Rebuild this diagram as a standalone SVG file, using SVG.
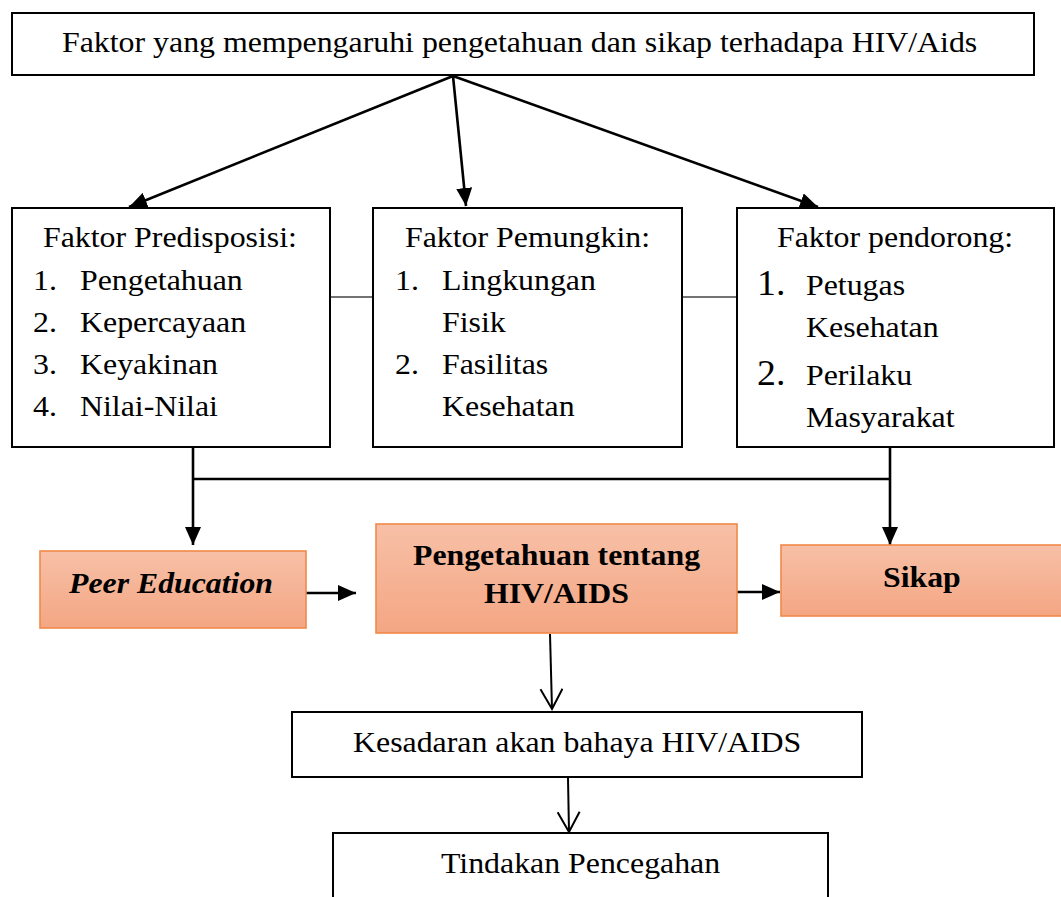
<svg xmlns="http://www.w3.org/2000/svg" width="1061" height="897" viewBox="0 0 1061 897">
<style>
.box{fill:#fff;stroke:#000;stroke-width:2}
.obox{fill:url(#og);stroke:#F0894A;stroke-width:1.6}
text{font-family:'Liberation Serif','Times New Roman',serif;font-size:29.5px;fill:#000}
.b{font-weight:bold;font-size:30px}
.bi{font-weight:bold;font-style:italic;font-size:30px}
.big{font-size:35px}
.ln{fill:none;stroke:#000;stroke-width:2.6}
.thin{fill:none;stroke:#444;stroke-width:1.5}
.lnv{fill:none;stroke:#000;stroke-width:2}
</style>
<defs>
<linearGradient id="og" x1="0" y1="0" x2="0" y2="1">
<stop offset="0" stop-color="#F7C0A7"/>
<stop offset="1" stop-color="#F4A683"/>
</linearGradient>
<marker id="ah" markerWidth="18" markerHeight="16" refX="18" refY="8" orient="auto" markerUnits="userSpaceOnUse">
<path d="M0,0 L18,8 L0,16 Z" fill="#000"/>
</marker>
<marker id="av" markerWidth="24" markerHeight="26" refX="21" refY="12" orient="auto" markerUnits="userSpaceOnUse">
<path d="M1,1 L21,12 L1,23" fill="none" stroke="#000" stroke-width="2"/>
</marker>
</defs>
<rect width="1061" height="897" fill="#fff"/>

<g id="connectors">
<path class="ln" d="M453,76 L129,207" marker-end="url(#ah)"/>
<path class="ln" d="M453,76 L466,206" marker-end="url(#ah)"/>
<path class="ln" d="M453,76 L818,207" marker-end="url(#ah)"/>
<path class="thin" d="M330,297 H373"/>
<path class="thin" d="M682,297 H737"/>
<path class="ln" d="M193,447 V545" marker-end="url(#ah)"/>
<path class="ln" d="M193,479 H890"/>
<path class="ln" d="M890,447 V545" marker-end="url(#ah)"/>
<path class="ln" d="M296,593 H356" marker-end="url(#ah)"/>
<path class="ln" d="M720,592 H780" marker-end="url(#ah)"/>
<path class="lnv" d="M550,634 L552,709" marker-end="url(#av)"/>
<path class="lnv" d="M568,778 L569,832" marker-end="url(#av)"/>
</g>

<g id="top">
<rect class="box" x="12" y="13" width="1022" height="62"/>
<text transform="translate(62,52) scale(1.08,1)">Faktor yang mempengaruhi pengetahuan dan sikap terhadapa HIV/Aids</text>
</g>

<g id="predisposisi">
<rect class="box" x="12" y="208" width="318" height="239"/>
<text transform="translate(43,247) scale(1.08,1)">Faktor Predisposisi:</text>
<text transform="translate(33,290) scale(1.08,1)">1.</text>
<text transform="translate(80,290) scale(1.08,1)">Pengetahuan</text>
<text transform="translate(33,332) scale(1.08,1)">2.</text>
<text transform="translate(80,332) scale(1.08,1)">Kepercayaan</text>
<text transform="translate(33,374) scale(1.08,1)">3.</text>
<text transform="translate(80,374) scale(1.08,1)">Keyakinan</text>
<text transform="translate(33,416) scale(1.08,1)">4.</text>
<text transform="translate(80,416) scale(1.08,1)">Nilai-Nilai</text>
</g>

<g id="pemungkin">
<rect class="box" x="373" y="208" width="309" height="239"/>
<text transform="translate(405,247) scale(1.08,1)">Faktor Pemungkin:</text>
<text transform="translate(395,290) scale(1.08,1)">1.</text>
<text transform="translate(442,290) scale(1.08,1)">Lingkungan</text>
<text transform="translate(442,332) scale(1.08,1)">Fisik</text>
<text transform="translate(395,374) scale(1.08,1)">2.</text>
<text transform="translate(442,374) scale(1.08,1)">Fasilitas</text>
<text transform="translate(442,416) scale(1.08,1)">Kesehatan</text>
</g>

<g id="pendorong">
<rect class="box" x="737" y="208" width="317" height="239"/>
<text transform="translate(777,247) scale(1.08,1)">Faktor pendorong:</text>
<text class="big" transform="translate(757,295) scale(1.08,1)">1.</text>
<text transform="translate(806,295) scale(1.08,1)">Petugas</text>
<text transform="translate(806,337) scale(1.08,1)">Kesehatan</text>
<text class="big" transform="translate(757,385) scale(1.08,1)">2.</text>
<text transform="translate(806,385) scale(1.08,1)">Perilaku</text>
<text transform="translate(806,427) scale(1.08,1)">Masyarakat</text>
</g>

<g id="peer">
<rect class="obox" x="40" y="551" width="266" height="77"/>
<text class="bi" transform="translate(69,593) scale(1.06,1)">Peer Education</text>
</g>

<g id="pengetahuan">
<rect class="obox" x="376" y="524" width="361" height="109"/>
<text class="b" transform="translate(413,565) scale(1.06,1)">Pengetahuan tentang</text>
<text class="b" transform="translate(484,603) scale(1.06,1)">HIV/AIDS</text>
</g>

<g id="sikap">
<rect class="obox" x="781" y="545" width="282" height="71"/>
<text class="b" transform="translate(883,587) scale(1.06,1)">Sikap</text>
</g>

<g id="kesadaran">
<rect class="box" x="292" y="712" width="570" height="65"/>
<text transform="translate(353,752) scale(1.08,1)">Kesadaran akan bahaya HIV/AIDS</text>
</g>

<g id="tindakan">
<rect class="box" x="333" y="833" width="495" height="80"/>
<text transform="translate(441,873) scale(1.08,1)">Tindakan Pencegahan</text>
</g>
</svg>
